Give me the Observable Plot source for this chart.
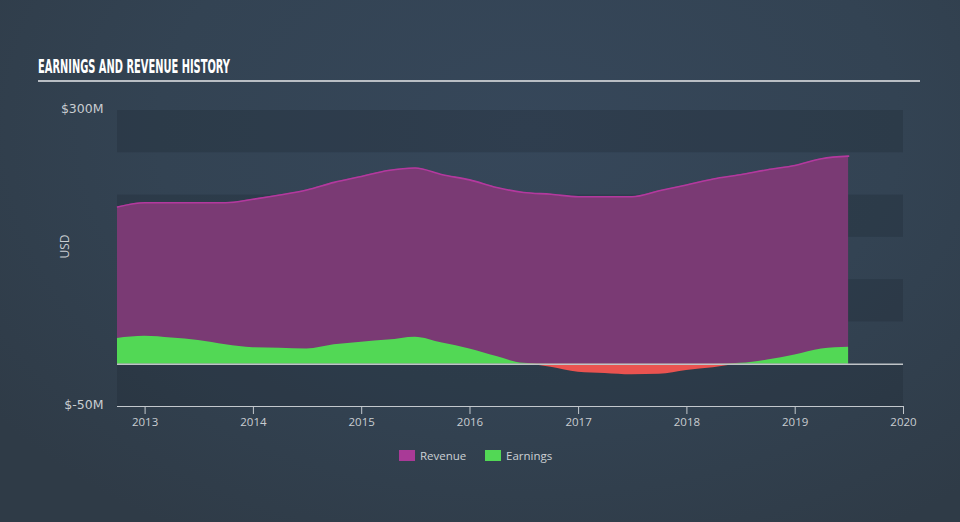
<!DOCTYPE html>
<html><head><meta charset="utf-8">
<script src="https://cdn.jsdelivr.net/npm/d3@7"></script>
<script src="https://cdn.jsdelivr.net/npm/@observablehq/plot@0.6"></script>
<style>
body{margin:0;background:#323f4c;}
#wrap{position:relative;width:960px;height:522px;overflow:hidden;
  background:radial-gradient(ellipse 70% 90% at 55% 25%, #36475a 0%, #334353 55%, #2f3b47 100%);
  font-family:"Open Sans",Lato,sans-serif;}
#chart{position:absolute;left:0;top:0;}
#title{position:absolute;left:38px;top:57px;font-family:"Liberation Sans Narrow","DejaVu Sans Condensed","DejaVu Sans",sans-serif;
  font-weight:bold;font-size:19px;line-height:19px;color:#ffffff;white-space:nowrap;transform-origin:0 0;}
#rule{position:absolute;left:38px;top:80px;width:882px;height:2px;background:#b9bec4;}
.leg{position:absolute;top:449px;height:13px;font-size:11.5px;line-height:13px;color:#ccd0d4;white-space:nowrap;}
.sw{position:absolute;width:16px;height:11px;top:450px;}
</style>
</head><body>
<div id="wrap">
  <div id="chart"></div>
  <div id="title"></div>
  <div id="rule"></div>
  <div class="sw" style="left:399px;background:#a93a97"></div>
  <div class="leg" id="leg1" style="left:420px"></div>
  <div class="sw" style="left:485px;background:#52d855"></div>
  <div class="leg" id="leg2" style="left:506px"></div>
</div>
<script>
const titleText = "EARNINGS AND REVENUE HISTORY";
const yLabel = "USD";
const seriesNames = ["Revenue", "Earnings"];
const dates = [
  "2012-09-30","2012-12-31","2013-03-31","2013-06-30","2013-09-30","2013-12-31","2014-03-31","2014-06-30",
  "2014-09-30","2014-12-31","2015-03-31","2015-06-30","2015-09-30","2015-12-31","2016-03-31","2016-06-30",
  "2016-09-30","2016-12-31","2017-03-31","2017-06-30","2017-09-30","2017-12-31","2018-03-31","2018-06-30",
  "2018-09-30","2018-12-31","2019-03-31","2019-06-30"
];
const revenue = [186,191,191,191,191,195,200,206,215,222,229,232,224,218,209,203,201,198,198,198,205,212,219,224,230,235,243,246];
const earnings = [30.5,33,31,28,23,19.5,19,18,23,26,28.5,32,25,18,9,1,-3.5,-9.5,-11,-12.5,-12,-7.5,-4.3,1,5,11,18,20];
const yTicks = [-50, 300];
const xTickYears = [2013,2014,2015,2016,2017,2018,2019,2020];
const xDomain = ["2012-09-30","2020-01-01"];
const bands = [[250,300],[150,200],[50,100],[-50,0]];

const parse = d3.utcParse("%Y-%m-%d");
const data = dates.map((d,i)=>({date: parse(d), revenue: revenue[i], earnings: earnings[i]}));
const bandData = bands.map(([a,b])=>({y1:a,y2:b}));
const xTicks = xTickYears.map(y=>new Date(Date.UTC(y,0,1)));

const plot = Plot.plot({
  width: 960, height: 522,
  marginTop: 110, marginBottom: 116, marginLeft: 117, marginRight: 57,
  style: {background: "transparent", color: "#c9cdd1", fontFamily: "'Open Sans', Lato, sans-serif", fontSize: "12px", overflow: "visible"},
  x: {type: "utc", domain: xDomain.map(parse)},
  y: {domain: [-50, 300]},
  marks: [
    Plot.rect(bandData, {y1: "y1", y2: "y2", fill: "#1c2632", fillOpacity: 0.28}),
    Plot.areaY(data, {x: "date", y1: 0, y2: "revenue", fill: "#7a3a74", curve: "monotone-x"}),
    Plot.areaY(data, {x: "date", y1: 0, y2: d => Math.max(0, d.earnings), fill: "#52d855", curve: "monotone-x"}),
    Plot.areaY(data, {x: "date", y1: 0, y2: d => Math.min(0, d.earnings), fill: "#ea5350", curve: "monotone-x"}),
    Plot.lineY(data, {x: "date", y: "revenue", stroke: "#b3399e", strokeWidth: 1.6, curve: "monotone-x"}),
    Plot.ruleY([0], {stroke: "#bfc3c7", strokeWidth: 1.5}),
    Plot.ruleY([-50], {stroke: "#c3c8cd", strokeWidth: 1}),
    Plot.axisY(yTicks, {tickFormat: d => `$${d}M`, tickSize: 0, tickPadding: 14, dy: -2, fontSize: 12.5, fontFamily: "'DejaVu Sans', sans-serif", fill: "#c9cdd1"}),
    Plot.axisX(xTicks, {tickFormat: d => d3.utcFormat("%Y")(d), tickSize: 8, tickPadding: 3, fontSize: 11.5, stroke: "#c3c8cd"}),
    Plot.text([yLabel], {text: d => d, frameAnchor: "left", dx: -52, rotate: -90, fontSize: 12, fill: "#c9cdd1"})
  ]
});
document.getElementById("chart").appendChild(plot);

document.getElementById("leg1").textContent = seriesNames[0];
document.getElementById("leg2").textContent = seriesNames[1];
const t = document.getElementById("title");
t.textContent = titleText;
const w = t.getBoundingClientRect().width;
t.style.transform = `scaleX(${192 / w})`;
</script>
</body></html>
